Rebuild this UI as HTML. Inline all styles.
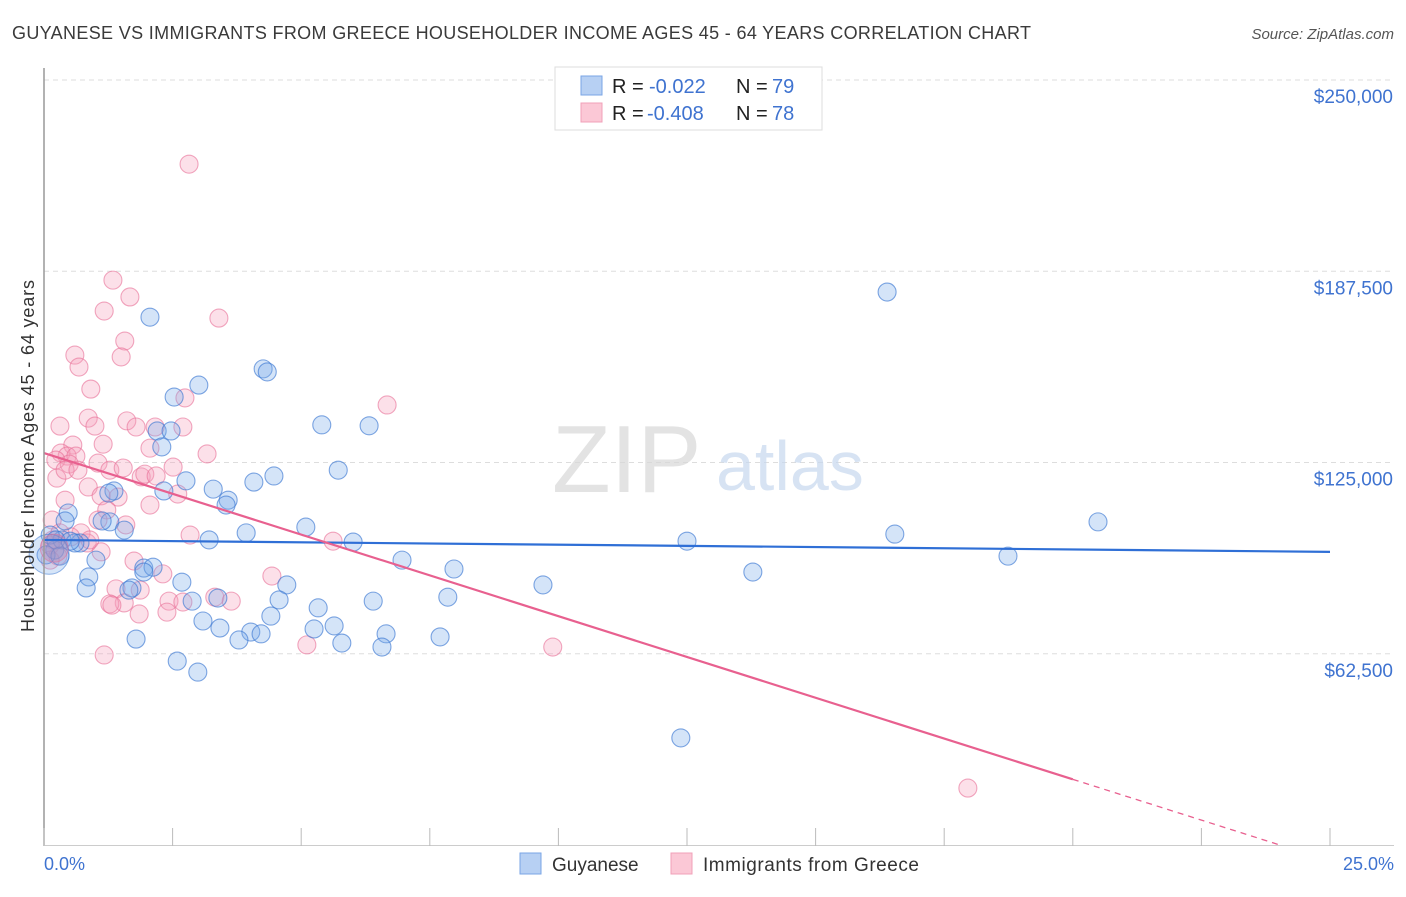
<!DOCTYPE html>
<html><head><meta charset="utf-8">
<style>
body{margin:0;background:#fff;font-family:"Liberation Sans",sans-serif;}
svg text{font-family:"Liberation Sans",sans-serif;}
</style></head><body>
<svg id="chart" width="1406" height="892" xmlns="http://www.w3.org/2000/svg">
<text x="12" y="39" font-size="18" fill="#3a3a3a" textLength="1019" lengthAdjust="spacing">GUYANESE VS IMMIGRANTS FROM GREECE HOUSEHOLDER INCOME AGES 45 - 64 YEARS CORRELATION CHART</text>
<text x="1394" y="39" font-size="15" fill="#555" font-style="italic" text-anchor="end">Source: ZipAtlas.com</text>
<g id="grid"></g>
<text x="552" y="492" font-size="96" fill="#d8d8d8" font-family="Liberation Serif" opacity="0.7">ZIP</text>
<text x="716" y="490" font-size="70" fill="#c7d8ef" opacity="0.7">atlas</text>
<g id="pts"></g>
<g id="lines"></g>
<line x1="44" y1="68" x2="44" y2="846" stroke="#999" stroke-width="1.5"/>
<line x1="44" y1="845.5" x2="1394" y2="845.5" stroke="#ccc" stroke-width="1"/>
<g id="axes"></g>
<text transform="translate(34,456) rotate(-90)" font-size="18" fill="#333" text-anchor="middle" textLength="352" lengthAdjust="spacing">Householder Income Ages 45 - 64 years</text>
<text x="44" y="870" font-size="18" fill="#3f73d0">0.0%</text>
<text x="1394" y="870" font-size="18" fill="#3f73d0" text-anchor="end">25.0%</text>
<g>
<rect x="555" y="67" width="267" height="63" fill="#fff" stroke="#ddd"/>
<rect x="581" y="76" width="21" height="19" fill="#b7d0f3" stroke="#7aa5e6"/>
<rect x="581" y="103" width="21" height="19" fill="#fbc8d6" stroke="#f0a0b8"/>
<text x="612" y="93" font-size="20" fill="#222">R = <tspan x="649" fill="#3f73d0">-0.022</tspan><tspan x="736">N = </tspan><tspan x="772" fill="#3f73d0">79</tspan></text>
<text x="612" y="120" font-size="20" fill="#222">R = <tspan x="647" fill="#3f73d0">-0.408</tspan><tspan x="736">N = </tspan><tspan x="772" fill="#3f73d0">78</tspan></text>
</g>
<g>
<rect x="520" y="853" width="21" height="21" fill="#b7d0f3" stroke="#7aa5e6"/>
<text x="552" y="871" font-size="19" fill="#333">Guyanese</text>
</g>
<g>
<rect x="671" y="853" width="21" height="21" fill="#fbc8d6" stroke="#f0a0b8"/>
<text x="703" y="871" font-size="19" fill="#333" textLength="216" lengthAdjust="spacing">Immigrants from Greece</text>
</g>
</svg>
<script>
const yTicks=[62500,125000,187500,250000];
const yTickLabels=["$62,500","$125,000","$187,500","$250,000"];
const xTicks=[0,2.5,5,7.5,10,12.5,15,17.5,20,22.5,25];
const blueX=[2.06,16.39,3.01,2.53,4.26,4.34,5.40,6.32,2.20,2.47,2.29,5.72,4.47,4.08,2.76,3.29,2.33,3.58,3.54,1.36,1.26,0.47,0.41,1.28,1.56,5.09,3.93,3.21,1.13,6.01,12.50,16.54,20.49,18.74,6.96,7.97,9.70,13.78,1.01,0.87,1.94,2.12,1.94,2.68,4.72,0.82,1.71,1.65,5.33,6.40,7.85,4.57,3.38,2.88,3.09,4.41,3.42,5.25,5.64,4.02,4.22,3.79,5.79,6.65,6.57,7.70,1.79,2.59,2.99,12.38,0.21,0.35,0.70,0.04,0.12,0.23,0.60,0.51,0.31];
const blueY=[172.5,180.7,150.3,146.4,155.6,154.6,137.3,137.0,135.3,135.3,130.1,122.5,120.6,118.6,119.0,116.3,115.7,112.7,111.1,115.7,115.0,108.5,105.9,105.6,102.9,103.9,102.0,99.7,105.9,99.0,99.3,101.6,105.6,94.4,93.1,90.2,85.0,89.2,93.1,87.6,90.5,90.8,89.2,85.9,85.0,84.0,84.0,83.3,77.5,79.7,81.0,80.1,80.7,79.7,73.2,74.8,70.9,70.6,71.6,69.6,69.0,67.0,66.0,69.0,64.7,68.0,67.3,60.1,56.5,35.0,96.4,99.7,98.7,94.8,101.3,99.7,98.7,99.3,94.4];
const pinkX=[2.82,1.34,1.67,1.17,3.40,1.57,1.50,0.60,0.68,0.91,6.67,2.74,0.31,1.61,0.86,0.99,1.79,2.16,2.70,0.56,1.15,2.06,3.17,0.33,0.45,0.62,0.23,0.49,1.05,1.28,1.54,1.89,1.96,2.18,2.51,0.25,0.41,0.86,2.60,1.44,1.11,0.41,2.06,1.22,1.59,0.72,0.16,0.17,0.52,1.11,0.84,0.12,0.27,2.84,5.62,1.75,2.31,4.43,1.40,3.32,2.43,1.56,1.28,3.64,2.70,1.32,1.85,2.39,5.11,9.89,1.17,17.96,0.12,0.89,0.31,1.87,1.05,0.66];
const pinkY=[222.5,184.6,179.1,174.5,172.2,164.7,159.5,160.1,156.2,149.0,143.8,146.1,136.9,138.6,139.5,136.9,136.6,136.6,136.6,130.7,131.0,129.7,127.8,128.1,127.1,127.1,125.8,124.5,124.8,122.5,123.2,120.3,121.2,120.6,123.5,119.9,122.5,117.0,114.7,113.7,114.1,112.7,111.1,109.5,104.6,102.0,106.2,99.7,100.7,95.8,98.7,98.0,94.4,101.3,99.3,92.8,88.6,87.9,83.7,81.0,79.7,79.1,78.8,79.7,79.4,78.4,75.5,76.1,65.4,64.7,62.1,18.6,93.1,99.7,102.0,83.3,106.2,122.5];
const blueTrend=[99.7,95.8];
const pinkTrend=[128.1,-5.2];
const NS="http://www.w3.org/2000/svg";
const X=p=>44+p/25*1286;
const Y=v=>845-v/250*765;
function mk(tag,parent,attrs){const e=document.createElementNS(NS,tag);for(const k in attrs)e.setAttribute(k,attrs[k]);parent.appendChild(e);return e;}
const grid=document.getElementById('grid'),axes=document.getElementById('axes');
yTicks.forEach((t,i)=>{
  const y=Y(t/1000);
  const l=mk('line',grid,{x1:44,x2:1394,y1:y,y2:y,stroke:'#ddd','stroke-dasharray':'5,4'});
  
  
  const tx=mk('text',axes,{x:1393,y:y+23,'font-size':19,fill:'#3f73d0','text-anchor':'end'});
  tx.textContent=yTickLabels[i];
  
  
});
xTicks.forEach(t=>{
  const l=mk('line',axes,{x1:X(t),x2:X(t),y1:828,y2:846,stroke:'#bbb'});
  
  
});
const pts=document.getElementById('pts');
function dots(xs,ys,fill,stroke,name){
  xs.forEach((x,i)=>{
    const c=mk('circle',pts,{cx:X(x),cy:Y(ys[i]),r:9,fill:fill,stroke:stroke,'stroke-width':1.1});
    
    
  });
}
dots(pinkX,pinkY,'rgba(246,160,188,0.32)','rgba(232,110,150,0.6)','greece-point');
dots(blueX,blueY,'rgba(120,170,232,0.32)','rgba(60,120,210,0.65)','guyanese-point');
const big=mk('circle',pts,{cx:X(0.1),cy:Y(95),r:20,fill:'rgba(120,170,232,0.3)',stroke:'rgba(60,120,210,0.55)'});


const big2=mk('circle',pts,{cx:X(0.2),cy:Y(97),r:14,fill:'rgba(200,130,170,0.35)',stroke:'rgba(232,110,150,0.55)'});


const lines=document.getElementById('lines');
const bl=mk('line',lines,{x1:X(0),y1:Y(blueTrend[0]),x2:X(25),y2:Y(blueTrend[1]),stroke:'#2f6fd6','stroke-width':2.2});


const pAt=p=>pinkTrend[0]+(pinkTrend[1]-pinkTrend[0])*p/25;
const pl=mk('line',lines,{x1:X(0),y1:Y(pAt(0)),x2:X(20),y2:Y(pAt(20)),stroke:'#e8608f','stroke-width':2.2});


const pEnd=pinkTrend[0]/(pinkTrend[0]-pinkTrend[1])*25;
const pd=mk('line',lines,{x1:X(20),y1:Y(pAt(20)),x2:X(pEnd),y2:Y(0),stroke:'#e8608f','stroke-width':1.3,'stroke-dasharray':'6,5'});


</script>
</body></html>
